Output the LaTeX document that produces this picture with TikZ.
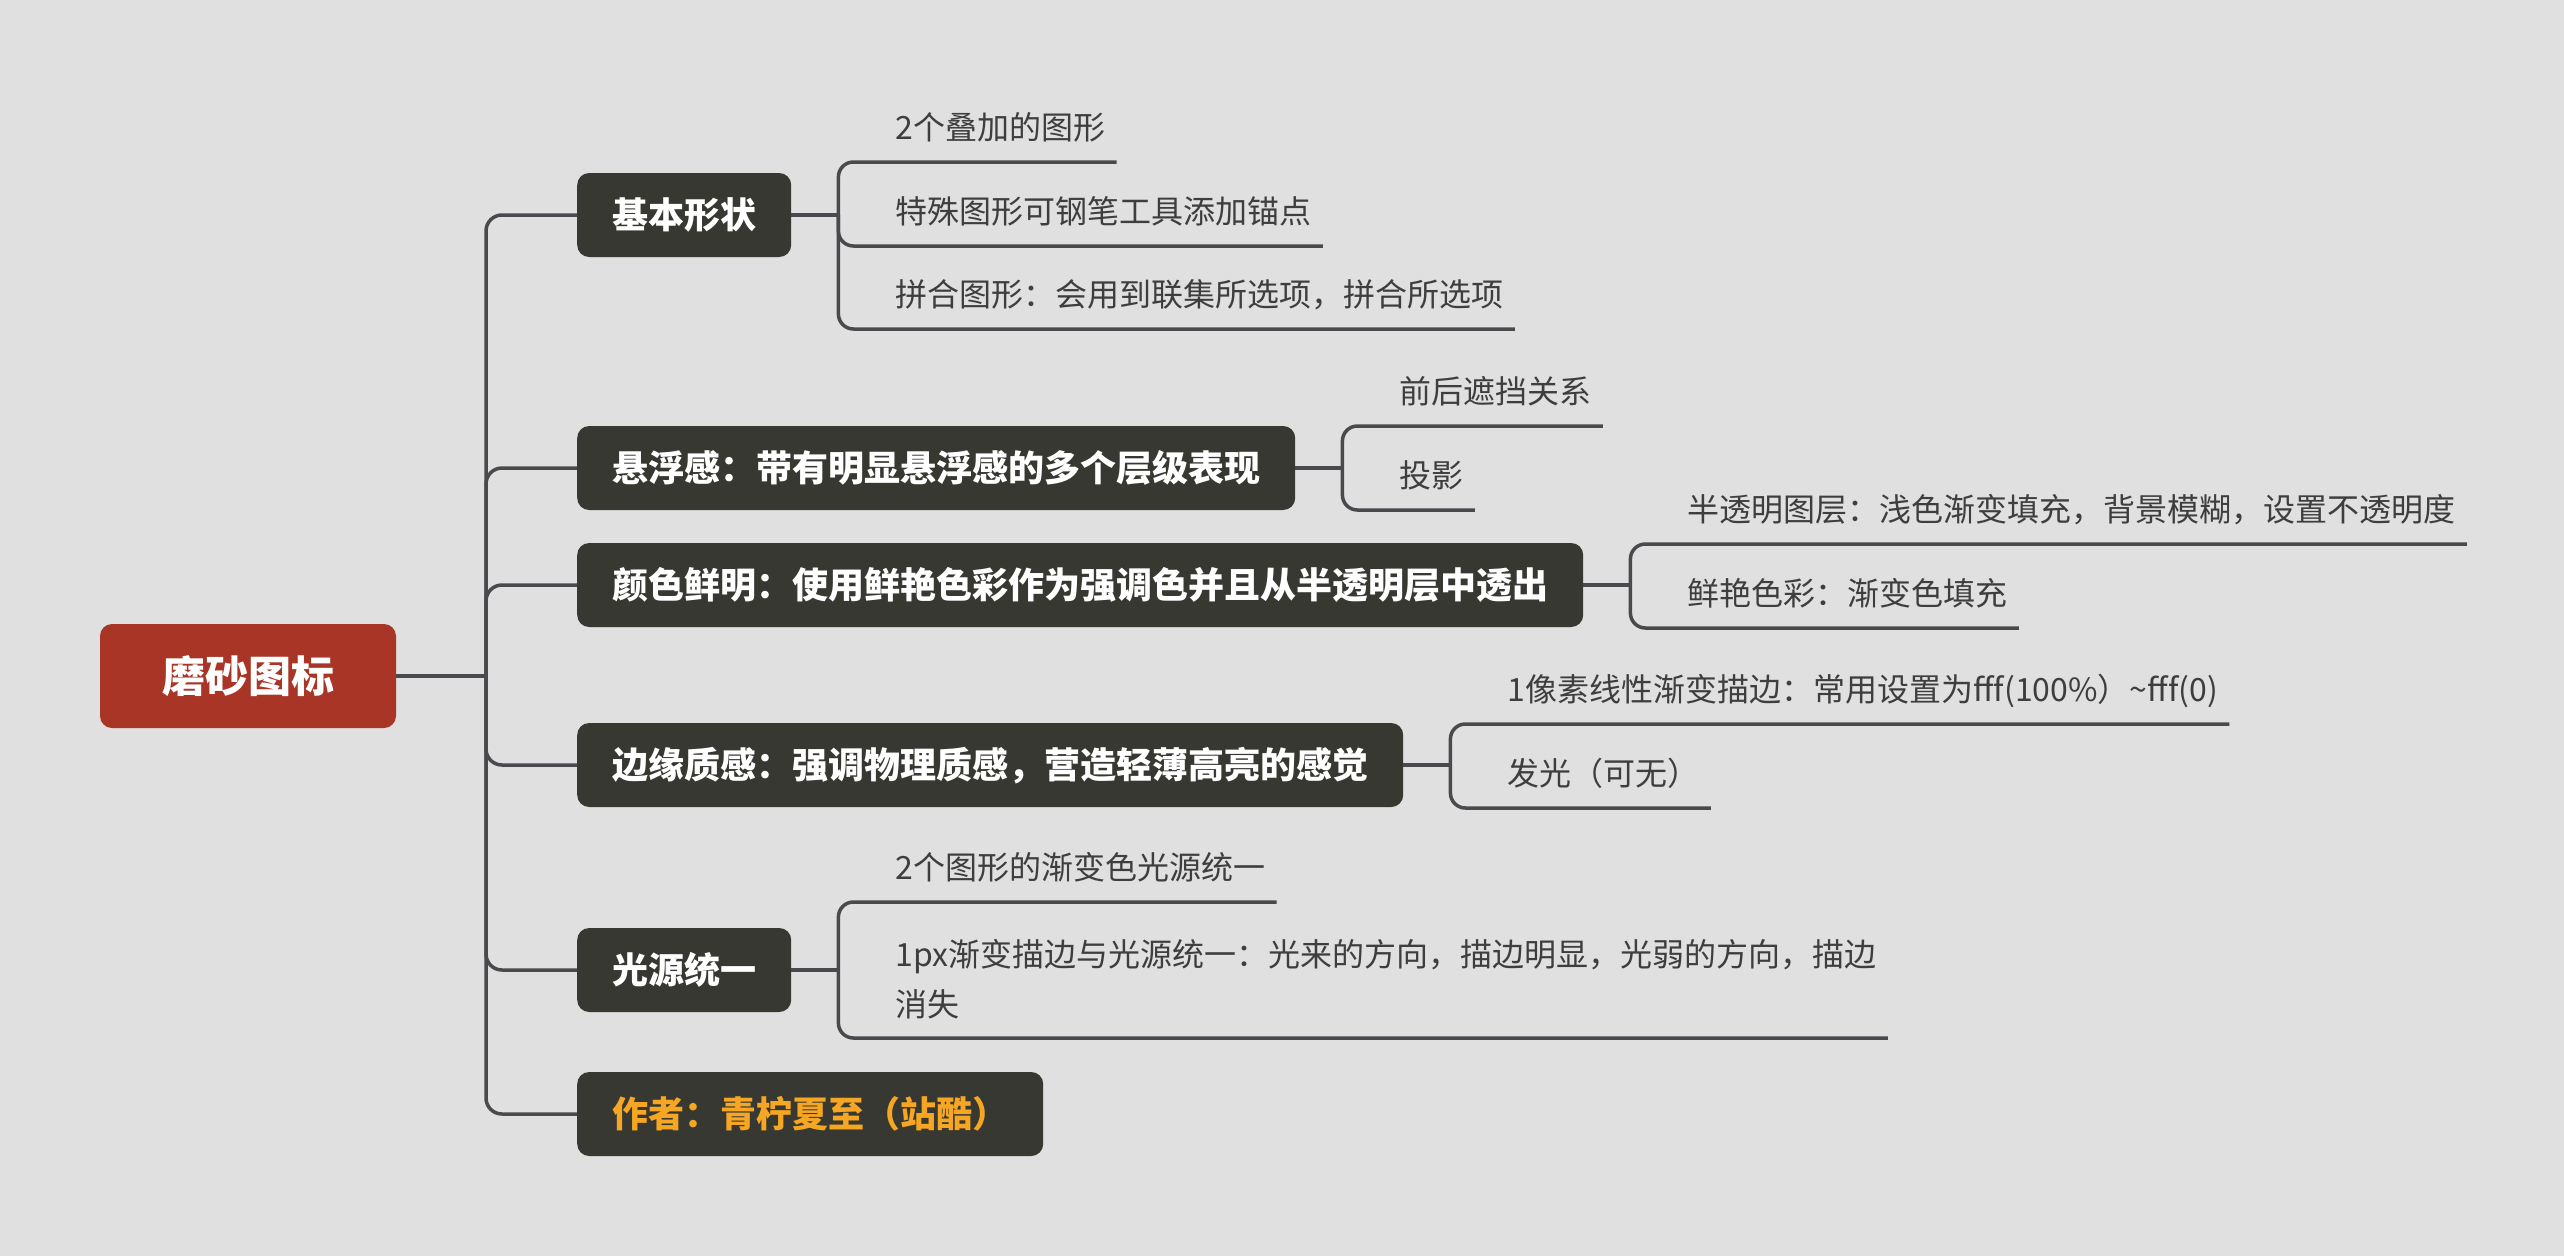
\documentclass[tikz,border=0pt]{standalone}
\usepackage{fontspec}
\newfontfamily\cjk{Noto Sans CJK SC}
\usetikzlibrary{calc}
\definecolor{bgc}{HTML}{E0E0E0}
\definecolor{boxc}{HTML}{383832}
\definecolor{linec}{HTML}{4A4A4E}
\definecolor{rootc}{HTML}{A83526}
\definecolor{leafc}{HTML}{3E3E3E}
\definecolor{authc}{HTML}{F5A623}
\begin{document}
\begin{tikzpicture}[x=1pt,y=-1pt,
  rootbox/.style={fill=rootc, rounded corners=12pt, text=white,
    font=\cjk\bfseries\fontsize{43}{50}\selectfont,
    minimum width=296pt, minimum height=104pt, inner sep=0pt,
    text height=35pt, text depth=2pt},
  branchbox/.style={fill=boxc, rounded corners=12pt, text=white,
    font=\cjk\bfseries\fontsize{36}{44}\selectfont,
    minimum height=84pt, inner xsep=35pt, inner ysep=0pt, anchor=west,
    text height=29pt, text depth=2pt},
  leaf/.style={text=leafc, font=\cjk\fontsize{32}{50}\selectfont,
    inner xsep=11pt, inner ysep=0pt, minimum height=68pt, anchor=south west,
    text height=26pt, text depth=2pt, xshift=46pt},
  leaftwo/.style={text=leafc, font=\cjk\fontsize{32}{50}\selectfont,
    inner xsep=11pt, inner ysep=0pt, anchor=north west, align=left, xshift=46pt},
  conn/.style={draw=linec, line width=3.5pt},
]
\fill[bgc] (0,0) rectangle (2564,1256);

% root and branches
\node[rootbox] (root) at (248,676) {磨砂图标};
\coordinate (tj) at (486,676);
\node[branchbox] (b1) at (577,215) {基本形状};
\node[branchbox] (b2) at (577,468) {悬浮感：带有明显悬浮感的多个层级表现};
\node[branchbox] (b3) at (577,585) {颜色鲜明：使用鲜艳色彩作为强调色并且从半透明层中透出};
\node[branchbox] (b4) at (577,765) {边缘质感：强调物理质感，营造轻薄高亮的感觉};
\node[branchbox] (b5) at (577,970) {光源统一};
\node[branchbox, text=authc] (b6) at (577,1114) {作者：青柠夏至（站酷）};

\draw[conn] (root.east) -- (tj);
\foreach \b in {b1,b2,b3,b4,b5,b6}
  \draw[conn, rounded corners=16pt] (tj) -- (tj |- \b.west) -- (\b.west);

% bracket points
\foreach \b in {b1,b2,b3,b4,b5}
  \coordinate (k\b) at ($(\b.east)+(47pt,0)$);

% leaves
\node[leaf] (c1a) at (kb1 |- 0,162) {2个叠加的图形};
\node[leaf] (c1b) at (kb1 |- 0,246) {特殊图形可钢笔工具添加锚点};
\node[leaf] (c1c) at (kb1 |- 0,329) {拼合图形：会用到联集所选项，拼合所选项};
\node[leaf] (c2a) at (kb2 |- 0,426) {前后遮挡关系};
\node[leaf] (c2b) at (kb2 |- 0,510) {投影};
\node[leaf] (c3a) at (kb3 |- 0,544) {半透明图层：浅色渐变填充，背景模糊，设置不透明度};
\node[leaf] (c3b) at (kb3 |- 0,628) {鲜艳色彩：渐变色填充};
\node[leaf] (c4a) at (kb4 |- 0,724) {1像素线性渐变描边：常用设置为fff(100\%）\textasciitilde fff(0)};
\node[leaf] (c4b) at (kb4 |- 0,808) {发光（可无）};
\node[leaf] (c5a) at (kb5 |- 0,902) {2个图形的渐变色光源统一};
\node[leaftwo] (c5b) at (kb5 |- 0,939) {1px渐变描边与光源统一：光来的方向，描边明显，光弱的方向，描边\\消失};
\coordinate (u5b) at (kb5 |- 0,1038);

% connectors branch -> leaves
\foreach \b in {b1,b2,b3,b4,b5}
  \draw[conn] (\b.east) -- (k\b);
\foreach \b/\c in {b1/c1a,b1/c1b,b1/c1c,b2/c2a,b2/c2b,b3/c3a,b3/c3b,b4/c4a,b4/c4b,b5/c5a}
  \draw[conn, rounded corners=15pt] (k\b) -- (k\b |- \c.south) -- (\c.south east);
\draw[conn, rounded corners=15pt] (kb5) -- (u5b) -- (c5b.east |- u5b);
\end{tikzpicture}
\end{document}
